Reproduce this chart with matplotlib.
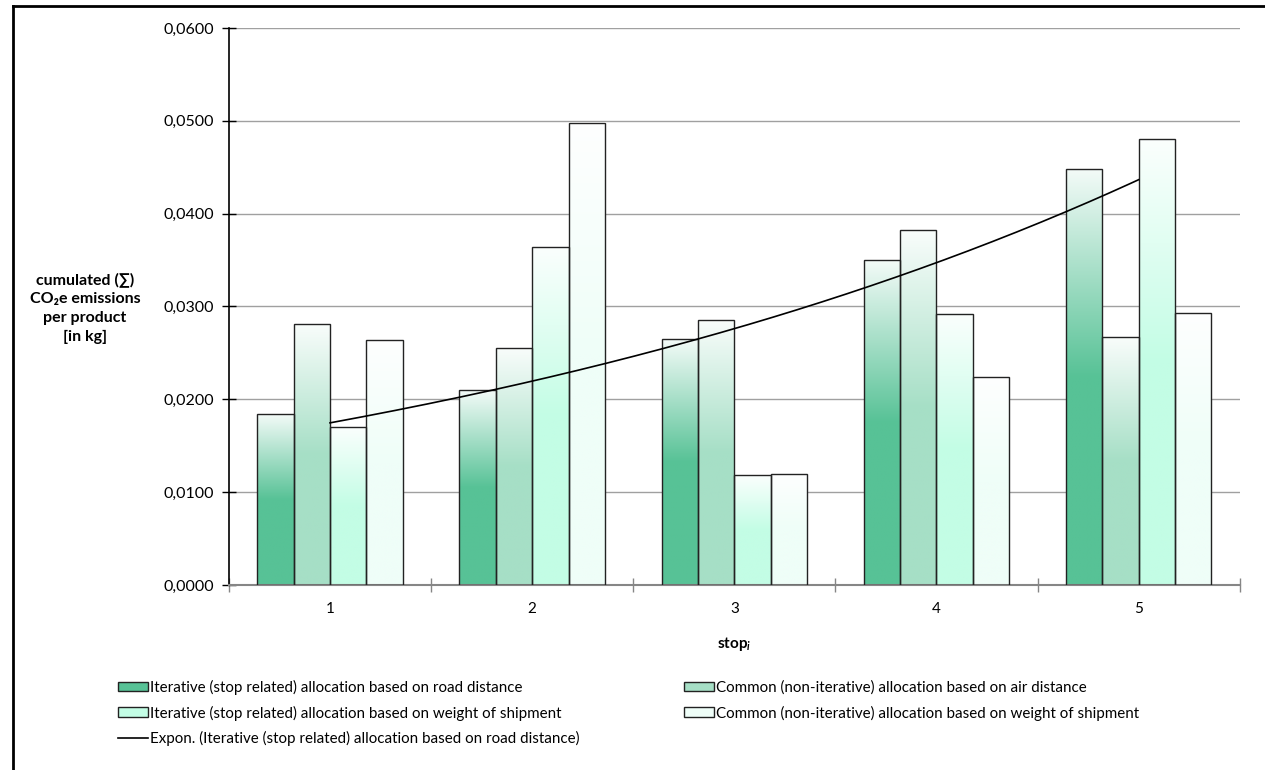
"""Cumulated CO2e emissions per product for each stop, four allocation methods."""

import matplotlib
matplotlib.use("Agg")
import matplotlib.pyplot as plt
import numpy as np
from matplotlib.colors import to_rgb
from matplotlib.lines import Line2D
from matplotlib.patches import Patch
from matplotlib.ticker import FuncFormatter, MultipleLocator

plt.rcParams["font.family"] = ["Lato", "DejaVu Sans"]
plt.rcParams["mathtext.fontset"] = "custom"
plt.rcParams["mathtext.it"] = "Lato:italic:bold"

stops = [1, 2, 3, 4, 5]
series_names = [
    "Iterative (stop related) allocation based on road distance",
    "Common (non-iterative) allocation based on air distance",
    "Iterative (stop related) allocation based on weight of shipment",
    "Common (non-iterative) allocation based on weight of shipment",
]
road_iter = [0.0184, 0.0210, 0.0265, 0.0350, 0.0448]
air_common = [0.0281, 0.0255, 0.0285, 0.0382, 0.0267]
weight_iter = [0.0170, 0.0364, 0.0118, 0.0292, 0.0480]
weight_common = [0.0264, 0.0498, 0.0120, 0.0224, 0.0293]
series = [road_iter, air_common, weight_iter, weight_common]
colors = ["#57c296", "#a6dfc6", "#c3fde5", "#effef8"]
trend_label = "Expon. (Iterative (stop related) allocation based on road distance)"


def gradient(color, n=256):
    """Column image: solid colour in the lower half, fading to white at the top."""
    base = np.array(to_rgb(color))
    t = np.linspace(0, 1, n)  # 0 = bottom, 1 = top
    mix = np.clip((t - 0.5) / 0.5, 0, 1) * 0.93
    img = base[None, :] * (1 - mix[:, None]) + mix[:, None]
    return img[::-1, None, :]


fig = plt.figure(figsize=(12.65, 7.7), dpi=100)
ax = fig.add_axes([0.181, 0.2403, 0.799, 0.7233])

x = np.arange(len(stops)) + 1
width = 0.18
offsets = (np.arange(4) - 1.5) * width

for vals, col, off in zip(series, colors, offsets):
    bars = ax.bar(x + off, vals, width, facecolor="none",
                  edgecolor="#222222", linewidth=1.0, zorder=3)
    img = gradient(col)
    for b in bars:
        x0 = b.get_x()
        ax.imshow(img, extent=[x0, x0 + b.get_width(), 0, b.get_height()],
                  aspect="auto", zorder=2, interpolation="bilinear")

# exponential trendline of the road-distance series
b_fit, ln_a = np.polyfit(x, np.log(road_iter), 1)
xt = np.linspace(1, 5, 200)
ax.plot(xt, np.exp(ln_a + b_fit * xt), color="black", linewidth=1.2,
        zorder=4)

ax.set_xlim(0.5, 5.5)
ax.set_ylim(0, 0.06)
ax.yaxis.set_major_locator(MultipleLocator(0.01))
ax.yaxis.set_major_formatter(
    FuncFormatter(lambda v, p: f"{v:.4f}".replace(".", ",")))
ax.yaxis.grid(True, color="#a0a0a0", linewidth=1.0, zorder=0)
ax.set_axisbelow(True)

ax.set_xticks(x)
ax.set_xticklabels([str(s) for s in stops])
ax.set_xticks(np.arange(0.5, 6.0, 1.0), minor=True)
ax.tick_params(axis="x", which="major", length=0, pad=12, labelsize=11)
ax.tick_params(axis="x", which="minor", length=10, direction="inout",
               color="#868686", width=1)
ax.tick_params(axis="y", length=10, direction="inout", color="black",
               width=1, labelsize=11.5, pad=6)

for s in ("top", "right"):
    ax.spines[s].set_visible(False)
ax.spines["left"].set_color("black")
ax.spines["left"].set_linewidth(1.2)
ax.spines["bottom"].set_color("#868686")
ax.spines["bottom"].set_linewidth(1.5)

ax.set_xlabel(r"stop$_{\mathit{i}}$", fontsize=11, fontweight="bold",
              labelpad=14)
fig.text(85 / 1265, 1 - 308 / 770,
         "cumulated (\u2211)\nCO\u2082e emissions\nper product\n[in kg]",
         ha="center", va="center", fontsize=11.5, fontweight="bold",
         linespacing=1.45)

# outer chart frame (left and top edges)
fig.add_artist(Line2D([13 / 1265, 13 / 1265], [0, 1 - 6 / 770],
                      color="black", linewidth=2))
fig.add_artist(Line2D([13 / 1265, 1], [1 - 6 / 770, 1 - 6 / 770],
                      color="black", linewidth=2))

handles = [
    Patch(facecolor=colors[0], edgecolor="#222222"),
    Patch(facecolor=colors[2], edgecolor="#222222"),
    Line2D([], [], color="black", linewidth=1.2),
    Patch(facecolor=colors[1], edgecolor="#222222"),
    Patch(facecolor=colors[3], edgecolor="#222222"),
]
labels = [series_names[0], series_names[2], trend_label,
          series_names[1], series_names[3]]
fig.legend(handles, labels, ncols=2, loc="upper left",
           bbox_to_anchor=(112 / 1265, 0.125), frameon=False, fontsize=10.9,
           handlelength=2.0, handleheight=0.6, handletextpad=0.1,
           columnspacing=6.9, labelspacing=0.7, borderaxespad=0)

fig.savefig("out.png", dpi=100)
